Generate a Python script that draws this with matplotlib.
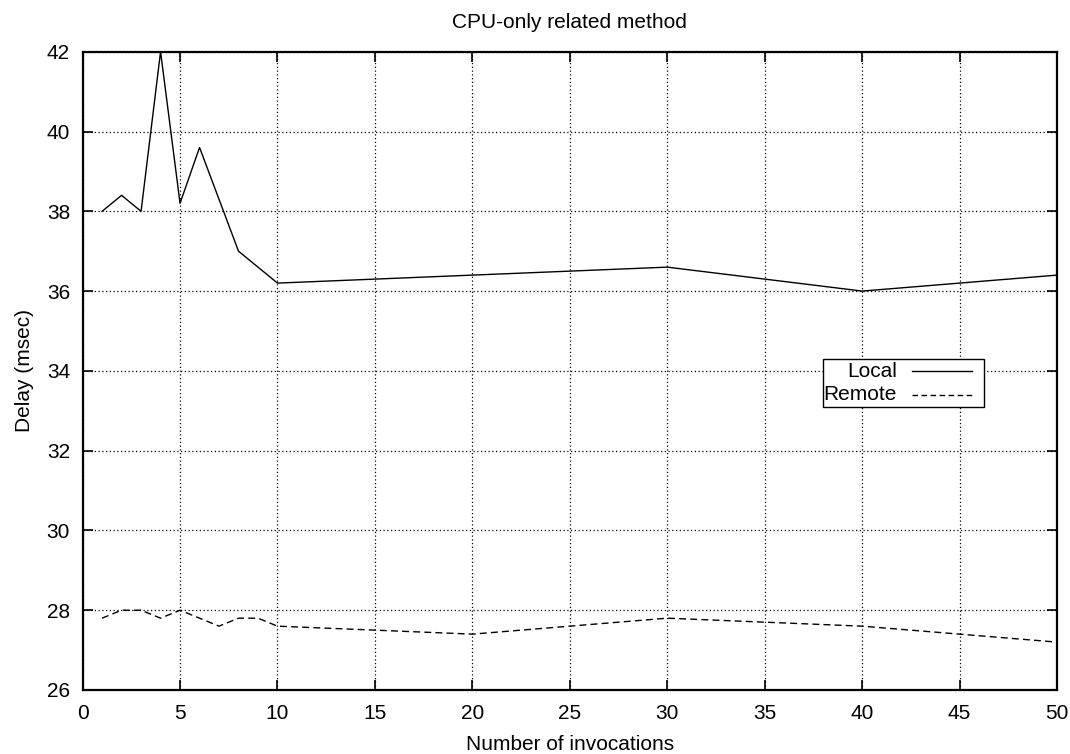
import matplotlib
matplotlib.use("Agg")
import matplotlib.pyplot as plt
from matplotlib.patches import Rectangle
from matplotlib.lines import Line2D

# Dades llegides del grafic
invocations = [1, 2, 3, 4, 5, 6, 7, 8, 9, 10, 20, 30, 40, 50]
local_delay = [38.0, 38.4, 38.0, 42.0, 38.2, 39.6, 38.3, 37.0, 36.6, 36.2, 36.4, 36.6, 36.0, 36.4]
remote_delay = [27.8, 28.0, 28.0, 27.8, 28.0, 27.8, 27.6, 27.8, 27.8, 27.6, 27.4, 27.8, 27.6, 27.2]

x_ticks = [0, 5, 10, 15, 20, 25, 30, 35, 40, 45, 50]
y_ticks = [26, 28, 30, 32, 34, 36, 38, 40, 42]

plt.rcParams['font.family'] = ['Liberation Sans', 'DejaVu Sans']

fig = plt.figure(figsize=(10.7, 7.54), dpi=100)
ax = fig.add_axes([0.0772, 0.0849, 0.9107, 0.8465])

ax.plot(invocations, local_delay, color="black", linewidth=1.0)
ax.plot(invocations, remote_delay, color="black", linewidth=1.0, linestyle=(0, (5, 3)))

ax.set_xlim(0, 50)
ax.set_ylim(26, 42)
ax.set_xticks(x_ticks)
ax.set_yticks(y_ticks)
ax.grid(True, color="black", linestyle=(0, (1, 2)), linewidth=0.9)

ax.tick_params(direction="in", length=7, width=1.2, top=True, right=True,
               labelsize=15)
ax.tick_params(axis="x", pad=10)
ax.tick_params(axis="y", pad=9)
for s in ax.spines.values():
    s.set_linewidth(1.6)

ax.set_title("CPU-only related method", fontsize=15, pad=17)
ax.set_xlabel("Number of invocations", fontsize=15, labelpad=9)
ax.set_ylabel("Delay (msec)", fontsize=15, labelpad=9)

# Llegenda a l'estil gnuplot (text alineat a la dreta, mostra de linia al costat)
box_x0 = (822.7 - 82.6) / 974.4
box_x1 = (984.0 - 82.6) / 974.4
box_y0 = 1 - (406.7 - 51.7) / 638.3
box_y1 = 1 - (359.3 - 51.7) / 638.3
ax.add_patch(Rectangle((box_x0, box_y0), box_x1 - box_x0, box_y1 - box_y0,
                       transform=ax.transAxes, facecolor="white",
                       edgecolor="black", linewidth=1.0, zorder=5))
row_h = (box_y1 - box_y0) / 2
text_x = (897.0 - 82.6) / 974.4
line_x0 = (911.7 - 82.6) / 974.4
line_x1 = (971.7 - 82.6) / 974.4
labels = ["Local", "Remote"]
styles = ["-", (0, (4, 2.5))]
for k in range(2):
    yy = box_y1 - row_h * (k + 0.5)
    ax.text(text_x, yy, labels[k], transform=ax.transAxes, ha="right",
            va="center", fontsize=15, zorder=6)
    ax.add_line(Line2D([line_x0, line_x1], [yy, yy], transform=ax.transAxes,
                       color="black", linewidth=1.0, linestyle=styles[k], zorder=6))

fig.savefig("out.png", dpi=100)
